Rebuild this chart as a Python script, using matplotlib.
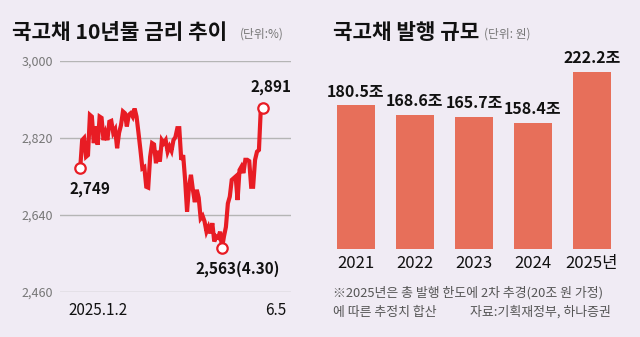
import matplotlib.pyplot as plt
import numpy as np

plt.rcParams['font.family'] = ['Noto Sans CJK KR', 'DejaVu Sans']

# 국고채 10년물 금리 (%), 2025.1.2 ~ 6.5, 일별
rate = [2.749, 2.815, 2.820, 2.776, 2.780, 2.874, 2.870, 2.808, 2.847, 2.804,
        2.870, 2.867, 2.815, 2.832, 2.815, 2.858, 2.860, 2.832, 2.840, 2.796,
        2.832, 2.850, 2.882, 2.878, 2.847, 2.874, 2.878, 2.870, 2.889, 2.870,
        2.832, 2.792, 2.749, 2.752, 2.706, 2.704, 2.776, 2.808, 2.805, 2.761,
        2.790, 2.765, 2.815, 2.808, 2.815, 2.788, 2.800, 2.790, 2.815, 2.822,
        2.843, 2.843, 2.769, 2.780, 2.722, 2.648, 2.706, 2.734, 2.699, 2.670,
        2.699, 2.680, 2.632, 2.638, 2.625, 2.601, 2.612, 2.597, 2.621, 2.578,
        2.590, 2.587, 2.601, 2.563, 2.590, 2.612, 2.667, 2.683, 2.722, 2.726,
        2.730, 2.675, 2.745, 2.753, 2.738, 2.769, 2.769, 2.766, 2.706, 2.706,
        2.769, 2.788, 2.792, 2.893, 2.891]
rate_ticks = [2.46, 2.64, 2.82, 3.0]
rate_tick_labels = ['2,460', '2,640', '2,820', '3,000']

# 국고채 발행 규모 (조 원)
years = ['2021', '2022', '2023', '2024', '2025년']
issue = [180.5, 168.6, 165.7, 158.4, 222.2]

bg = '#f0ebf4'
red = '#e81c24'
bar_color = '#e76f5a'

fig = plt.figure(figsize=(6.4, 3.37), dpi=100, facecolor=bg)

# ---- left: 10-year yield line
ax = fig.add_axes([60 / 640, 45 / 337, 231 / 640, 231 / 337], facecolor=bg)
x = np.arange(len(rate))
n = len(rate) - 1
ax.plot(x, rate, color=red, lw=3.0, solid_joinstyle='miter', zorder=3)
ax.set_xlim(-10.4, n + 14.5)
ax.set_ylim(2.46, 3.0)
ax.set_yticks(rate_ticks)
ax.set_yticklabels(rate_tick_labels, fontsize=9, color='#777777')
ax.tick_params(axis='y', length=0, pad=5)
ax.set_xticks([])
ax.yaxis.grid(True, color='#b5b5b5', lw=1)
ax.set_axisbelow(True)
for s in ax.spines.values():
    s.set_visible(False)

imin = int(np.argmin(rate))
for i, label, off in [(0, '2,749', (7, -15)),
                      (n, '2,891', (6, 15)),
                      (imin, '2,563(4.30)', (11, -15))]:
    ax.plot(x[i], rate[i], 'o', ms=7.5, mfc='white', mec=red, mew=1.6,
            zorder=4, clip_on=False)
    ax.annotate(label, (x[i], rate[i]), xytext=off, textcoords='offset points',
                ha='center', va='center', fontsize=11, fontweight='bold',
                color='#111111')

ax.text(0.035, -0.08, '2025.1.2', transform=ax.transAxes, ha='left', va='center',
        fontsize=11, color='#111111')
ax.text(0.978, -0.08, '6.5', transform=ax.transAxes, ha='right', va='center',
        fontsize=11, color='#111111')

# ---- right: issuance bars
bx = fig.add_axes([320 / 640, 87.7 / 337, 310 / 640, 189.3 / 337], facecolor=bg)
pos = np.arange(len(years))
bars = bx.bar(pos, issue, width=0.644, color=bar_color, zorder=2)
bx.set_xlim(-0.61, 4.644)
bx.set_ylim(0, 237)
bx.bar_label(bars, labels=[f'{v}조' for v in issue], padding=4,
             fontsize=11.5, fontweight='bold', color='#111111')
bx.set_xticks(pos)
bx.set_xticklabels(years, fontsize=12, color='#111111')
bx.tick_params(axis='x', length=0, pad=4)
bx.set_yticks([])
for s in bx.spines.values():
    s.set_visible(False)

# ---- titles and notes
fig.text(12 / 640, 0.905, '국고채 10년물 금리 추이', fontsize=15.3, fontweight='bold',
         color='#111111', ha='left', va='center')
fig.text(240 / 640, 0.900, '(단위:%)', fontsize=8.5, color='#777777',
         ha='left', va='center')
fig.text(333 / 640, 0.905, '국고채 발행 규모', fontsize=15.3, fontweight='bold',
         color='#111111', ha='left', va='center')
fig.text(484 / 640, 0.900, '(단위: 원)', fontsize=8.5, color='#777777',
         ha='left', va='center')

fig.text(333 / 640, 0.131, '※2025년은 총 발행 한도에 2차 추경(20조 원 가정)',
         fontsize=9.3, color='#555555', ha='left', va='center')
fig.text(333 / 640, 0.074, '에 따른 추정치 합산', fontsize=9.3, color='#555555',
         ha='left', va='center')
fig.text(470 / 640, 0.074, '자료:기획재정부, 하나증권', fontsize=9.3, color='#555555',
         ha='left', va='center')

fig.savefig('out.png', dpi=100, facecolor=bg)
